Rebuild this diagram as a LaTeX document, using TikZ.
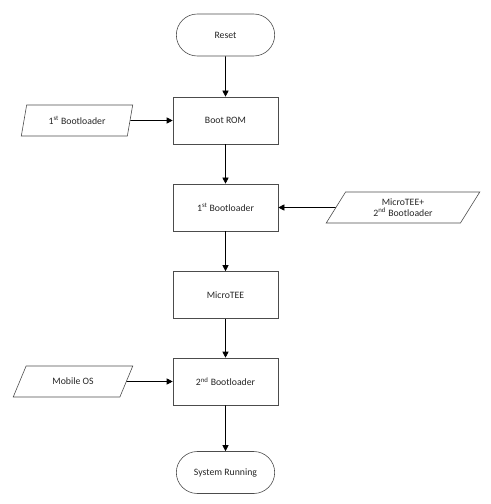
\documentclass[tikz,border=0pt]{standalone}
\usepackage{fontspec}
\setmainfont{Carlito}
\usetikzlibrary{arrows.meta, positioning, shapes.geometric, shapes.misc}

\begin{document}
\begin{tikzpicture}[x=1bp, y=1bp,
  every node/.style={font=\fontsize{9.8}{11.5}\selectfont, text=black!85},
  stepbox/.style={draw=black!70, semithick, minimum width=105bp, minimum height=47bp, align=center},
  termbox/.style={draw=black!70, semithick, rounded rectangle, minimum width=105bp, minimum height=42bp},
  databox/.style={draw=black!70, semithick, trapezium, trapezium stretches=true, minimum height=31bp, align=center},
  flow/.style={-{Triangle[length=6bp, width=6bp]}, semithick, black}]
  \useasboundingbox (0,0) rectangle (491,-504);

  % Main column
  \node[termbox] (reset) at (225.5,-35) {Reset};
  \node[stepbox] (rom) at (225.5,-120.5) {Boot ROM};
  \node[stepbox] (first) at (225.5,-207.5) {1\textsuperscript{st} Bootloader};
  \node[stepbox] (tee) at (225.5,-295) {MicroTEE};
  \node[stepbox] (second) at (225.5,-381.5) {2\textsuperscript{nd} Bootloader};
  \node[termbox] (run) at (225.5,-472.5) {System Running};

  % Images loaded
  \node[databox, minimum width=112bp, trapezium left angle=77, trapezium right angle=103] (img1) at (77,-120.5) {1\textsuperscript{st} Bootloader};
  \node[databox, minimum width=154bp, trapezium left angle=66, trapezium right angle=114] (img2) at (403,-207.5) {MicroTEE+\\2\textsuperscript{nd} Bootloader};
  \node[databox, minimum width=120bp, trapezium left angle=64, trapezium right angle=116] (img3) at (73,-381.5) {Mobile OS};

  % Arrows
  \draw[flow] (reset) -- (rom);
  \draw[flow] (rom) -- (first);
  \draw[flow] (first) -- (tee);
  \draw[flow] (tee) -- (second);
  \draw[flow] (second) -- (run);
  \draw[flow] (img1) -- (rom);
  \draw[flow] (img2) -- (first);
  \draw[flow] (img3) -- (second);
\end{tikzpicture}
\end{document}
